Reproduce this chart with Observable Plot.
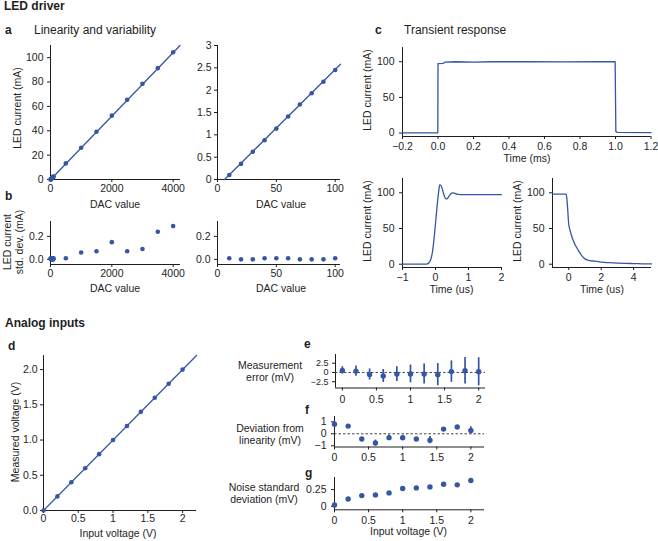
<!DOCTYPE html>
<html><head><meta charset="utf-8">
<script src="https://cdn.jsdelivr.net/npm/d3@7"></script>
<script src="https://cdn.jsdelivr.net/npm/@observablehq/plot@0.6"></script>
<style>
html,body{margin:0;padding:0;background:#fff;}
#fig{position:relative;width:658px;height:541px;overflow:hidden;background:#fff;}
#fig svg{position:absolute;overflow:visible;}
</style></head><body><div id="fig"></div>
<script>
// ---------- data ----------
const dacValues = [0,10,20,30,40,50,60,70,80,90,100,500,1000,1500,2000,2500,3000,3500,4000];
const ledCurrentMA = [0,0.10,0.35,0.62,0.88,1.14,1.41,1.68,1.93,2.19,2.45,13.2,26.1,39.2,52.4,65.5,78.5,91.4,104.5];
const ledStdMA = [0.005,0.01,0.0,0.0,0.01,0.01,0.01,0.0,0.0,0.0,0.01,0.01,0.06,0.07,0.15,0.07,0.09,0.24,0.29];
const fitDacFull = [6, 4225];
const fitCurrentFull = [0, 110];
const fitDacLow = [6, 104.5];
const fitCurrentLow = [0, 2.58];

const pulseTimeMs = [-0.2,-0.001,0,0.03,0.04,0.1,0.2,0.3,0.5,0.7,0.9,0.998,1.002,1.01,1.2];
const pulseCurrentMA = [0.3,0.3,97.5,97.8,99.6,100,99.6,100,100,99.8,100,100,2,1,0.6];

const riseTimeUs = [-1,-0.3,-0.25,-0.2,-0.15,-0.1,-0.05,0,0.05,0.1,0.13,0.17,0.22,0.27,0.32,0.37,0.42,0.47,0.52,0.57,0.65,0.75,2];
const riseCurrentMA = [0,0,0.5,2,6,15,33,57,82,103,111,110,103,95,91.5,92.5,96,99,100,99.5,98,97.5,97.5];

const fallTimeUs = [-1,-0.2,-0.15,-0.1,-0.05,0,0.1,0.2,0.3,0.4,0.5,0.6,0.7,0.8,0.9,1.0,1.2,1.5,2,2.5,3,3.5,4,4.5,5.1];
const fallCurrentMA = [98,98,97,88,72,56,46,38,32,27,23,19,15.5,12,9.5,7.5,5.5,4.5,3,2.2,1.6,1.2,0.9,0.6,0.4];

const inputV = [0,0.2,0.4,0.6,0.8,1.0,1.2,1.4,1.6,1.8,2.0];
const measuredV = [0,0.2,0.4,0.6,0.8,1.0,1.2,1.4,1.6,1.8,2.0];
const identityV = [0, 2.2];
const measErrMV = [0.55,0.37,-0.55,-0.95,-0.45,-0.4,-0.45,-0.6,0.23,0.45,0.18];
const measErrSdMV = [1.0,1.4,1.5,1.75,2.0,2.4,2.7,3.0,2.9,3.6,3.8];
const devLinMV = [0.8,0.64,-0.43,-0.77,-0.32,-0.33,-0.43,-0.53,0.39,0.57,0.28];
const devLinErrMV = [0.2,0.1,0.12,0.25,0.22,0.15,0.12,0.3,0.12,0.12,0.3];
const noiseSdMV = [0.02,0.11,0.16,0.17,0.2,0.265,0.275,0.29,0.33,0.32,0.385];

// tick values
const ticksDacFull = [0,2000,4000];
const ticksDacLow = [0,50,100];
const ticksCurrentFull = [0,20,40,60,80,100];
const ticksCurrentLow = [0,0.5,1,1.5,2,2.5,3];
const ticksStd = [0,0.2];
const ticksPulseMs = [-0.2,0,0.2,0.4,0.6,0.8,1.0,1.2];
const ticksCurrentPulse = [0,50,100];
const ticksRiseUs = [-1,0,1,2];
const ticksFallUs = [0,2,4];
const ticksVoltage = [0,0.5,1,1.5,2];
const ticksMeasured = [0,0.5,1,1.5,2];
const ticksErr = [-2.5,0,2.5];
const ticksDev = [-1,0,1];
const ticksNoise = [0,0.25];

// ---------- helpers ----------
const BLUE = "#3556a4";
const INK = "#1e1e1e";
const FONT = '"Liberation Sans", Arial, Helvetica, sans-serif';
const fig = document.getElementById("fig");
const ML = 50, MT = 6, MR = 6, MB = 26;
const plain = d => (d < 0 ? "\u2212" : "") + Math.abs(d);
const f1 = d3.format(".1f");

function panel(box, xOpt, yOpt, marks, fontSize = "10.5px") {
  const [l, t, r, b] = box;
  const svg = Plot.plot({
    width: r - l + ML + MR, height: b - t + MT + MB,
    marginLeft: ML, marginRight: MR, marginTop: MT, marginBottom: MB,
    style: {fontFamily: FONT, fontSize, color: INK, background: "transparent", overflow: "visible"},
    x: {label: null, tickSize: 3, tickPadding: 2, tickFormat: plain, ...xOpt},
    y: {label: null, tickSize: 3, tickPadding: 4, tickFormat: plain, ...yOpt},
    marks: [
      Plot.ruleX([xOpt.domain[0]], {stroke: INK, strokeWidth: 1}),
      Plot.ruleY([yOpt.domain[0]], {stroke: INK, strokeWidth: 1}),
      ...marks
    ]
  });
  svg.style.left = (l - ML) + "px";
  svg.style.top = (t - MT) + "px";
  fig.appendChild(svg);
  return svg;
}

const ledRows = dacValues.map((d, i) => ({dac: d, current: ledCurrentMA[i], sd: ledStdMA[i]}));
const ledLow = ledRows.filter(r => r.dac > 0 && r.dac <= 100);
const fitFull = fitDacFull.map((d, i) => ({dac: d, current: fitCurrentFull[i]}));
const fitLow = fitDacLow.map((d, i) => ({dac: d, current: fitCurrentLow[i]}));
const pulse = pulseTimeMs.map((t, i) => ({t, i: pulseCurrentMA[i]}));
const rise = riseTimeUs.map((t, i) => ({t, i: riseCurrentMA[i]}));
const fall = fallTimeUs.map((t, i) => ({t, i: fallCurrentMA[i]}));
const analog = inputV.map((v, i) => ({v, m: measuredV[i], e: measErrMV[i], esd: measErrSdMV[i],
  dl: devLinMV[i], dle: devLinErrMV[i], n: noiseSdMV[i]}));
const ident = identityV.map(v => ({v, m: v}));

// ---------- a ----------
panel([50, 45, 180, 179], {domain: [0, 4240], ticks: ticksDacFull}, {domain: [0, 110], ticks: ticksCurrentFull}, [
  Plot.line(fitFull, {x: "dac", y: "current", stroke: BLUE, strokeWidth: 1.3}),
  Plot.dot(ledRows, {x: "dac", y: "current", r: 2.3, fill: BLUE})
]);
panel([217, 45, 340, 179], {domain: [0, 104.5], ticks: ticksDacLow}, {domain: [0, 3], ticks: ticksCurrentLow, tickPadding: 3}, [
  Plot.line(fitLow, {x: "dac", y: "current", stroke: BLUE, strokeWidth: 1.3}),
  Plot.dot(ledLow, {x: "dac", y: "current", r: 2.3, fill: BLUE})
]);
// ---------- b ----------
panel([50, 221, 180, 264], {domain: [0, 4240], ticks: ticksDacFull}, {domain: [-0.045, 0.33], ticks: ticksStd, tickFormat: f1}, [
  Plot.dot(ledRows, {x: "dac", y: "sd", r: 2.3, fill: BLUE})
]);
panel([217, 221, 340, 264], {domain: [0, 104.5], ticks: ticksDacLow}, {domain: [-0.045, 0.33], ticks: ticksStd, tickFormat: f1}, [
  Plot.dot(ledLow, {x: "dac", y: "sd", r: 2.3, fill: BLUE})
]);
// ---------- c ----------
panel([402, 47, 650.5, 136], {domain: [-0.2, 1.2], ticks: ticksPulseMs, tickFormat: f1, tickPadding: 3}, {domain: [-4.8, 120], ticks: ticksCurrentPulse, tickPadding: 5}, [
  Plot.line(pulse, {x: "t", y: "i", stroke: BLUE, strokeWidth: 1.3})
]);
panel([402, 178, 501, 267], {domain: [-1, 2], ticks: ticksRiseUs, tickPadding: 3}, {domain: [-4.6, 120], ticks: ticksCurrentPulse, tickPadding: 5}, [
  Plot.line(rise, {x: "t", y: "i", stroke: BLUE, strokeWidth: 1.3, curve: "monotone-x"})
]);
panel([552, 178, 651, 267], {domain: [-1, 5.1], ticks: ticksFallUs, tickPadding: 3}, {domain: [-4.6, 120], ticks: ticksCurrentPulse, tickPadding: 5}, [
  Plot.line(fall, {x: "t", y: "i", stroke: BLUE, strokeWidth: 1.3, curve: "monotone-x"})
]);
// ---------- d ----------
panel([43, 355, 196, 510], {domain: [0, 2.2], ticks: ticksVoltage, tickPadding: 1}, {domain: [0, 2.2], ticks: ticksMeasured, tickFormat: f1, tickPadding: 3}, [
  Plot.line(ident, {x: "v", y: "m", stroke: BLUE, strokeWidth: 1.3}),
  Plot.dot(analog, {x: "v", y: "m", r: 2.3, fill: BLUE})
]);
// ---------- e ----------
const eSvg = panel([335, 354, 485, 387.5], {domain: [-0.1, 2.1], ticks: ticksVoltage, tickPadding: 5}, {domain: [-4.2, 4.85], ticks: ticksErr}, [
  Plot.ruleY([0], {stroke: "#444", strokeWidth: 1, strokeDasharray: "2.5,2"}),
  Plot.ruleX(analog, {x: "v", y1: d => d.e - d.esd, y2: d => d.e + d.esd, stroke: BLUE, strokeWidth: 1.7}),
  Plot.dot(analog, {x: "v", y: "e", r: 2.7, fill: BLUE})
]);
// tighter y tick labels for e (the three labels sit only 9 px apart)
d3.select(eSvg).selectAll("[aria-label='y-axis tick label']").attr("font-size", "9px");
// ---------- f ----------
panel([334, 416, 484, 446.5], {domain: [0, 2.2], ticks: ticksVoltage, tickPadding: 4}, {domain: [-1.1, 1.44], ticks: ticksDev, tickPadding: 5}, [
  Plot.ruleY([0], {stroke: "#444", strokeWidth: 1, strokeDasharray: "2.5,2"}),
  Plot.ruleX(analog, {x: "v", y1: d => d.dl - d.dle, y2: d => d.dl + d.dle, stroke: BLUE, strokeWidth: 1.7}),
  Plot.dot(analog, {x: "v", y: "dl", r: 2.7, fill: BLUE})
]);
// ---------- g ----------
panel([334, 476.7, 484, 509], {domain: [0, 2.2], ticks: ticksVoltage, tickPadding: 3.5}, {domain: [-0.052, 0.43], ticks: ticksNoise, tickPadding: 5}, [
  Plot.dot(analog, {x: "v", y: "n", r: 2.7, fill: BLUE})
]);

// ---------- text overlay ----------
const ov = d3.select(fig).append("svg")
  .attr("width", 658).attr("height", 541)
  .style("left", "0px").style("top", "0px").style("pointer-events", "none")
  .attr("font-family", FONT).attr("fill", INK);
function txt(s, x, y, o = {}) {
  const el = ov.append("text").text(s)
    .attr("font-size", (o.size || 10.5) + "px")
    .attr("font-weight", o.bold ? "bold" : "normal")
    .attr("text-anchor", o.anchor || "start");
  if (o.rot) el.attr("transform", `translate(${x},${y}) rotate(-90)`);
  else el.attr("x", x).attr("y", y);
}
txt("LED driver", 4, 9.5, {size: 12, bold: true});
txt("a", 5, 33.5, {size: 12, bold: true});
txt("Linearity and variability", 34, 33.5, {size: 12});
txt("c", 375, 33.5, {size: 12, bold: true});
txt("Transient response", 404, 33.5, {size: 12});
txt("b", 5, 200, {size: 12, bold: true});
txt("Analog inputs", 5, 327, {size: 12, bold: true});
txt("d", 8, 349.5, {size: 12, bold: true});
txt("e", 304, 348, {size: 12, bold: true});
txt("f", 305, 413.5, {size: 12, bold: true});
txt("g", 305, 477, {size: 12, bold: true});

txt("LED current (mA)", 21, 108, {rot: true, anchor: "middle"});
txt("DAC value", 115, 207.5, {anchor: "middle"});
txt("DAC value", 281, 207.5, {anchor: "middle"});
txt("LED current", 11, 242, {rot: true, anchor: "middle"});
txt("std. dev. (mA)", 22.5, 242, {rot: true, anchor: "middle"});
txt("DAC value", 115, 291.5, {anchor: "middle"});
txt("DAC value", 281, 291.5, {anchor: "middle"});

txt("LED current (mA)", 371, 90, {rot: true, anchor: "middle"});
txt("Time (ms)", 527, 162, {anchor: "middle"});
txt("LED current (mA)", 371, 221, {rot: true, anchor: "middle"});
txt("LED current (mA)", 521, 221, {rot: true, anchor: "middle"});
txt("Time (us)", 451.5, 293, {anchor: "middle"});
txt("Time (us)", 602, 293, {anchor: "middle"});

txt("Measured voltage (V)", 18.5, 432, {rot: true, anchor: "middle"});
txt("Input voltage (V)", 118, 537, {anchor: "middle"});
txt("Measurement", 270, 368.5, {anchor: "middle"});
txt("error (mV)", 270, 380.5, {anchor: "middle"});
txt("Deviation from", 270, 432, {anchor: "middle"});
txt("linearity (mV)", 270, 444, {anchor: "middle"});
txt("Noise standard", 264, 490.5, {anchor: "middle"});
txt("deviation (mV)", 264, 502.5, {anchor: "middle"});
txt("Input voltage (V)", 408.5, 535, {anchor: "middle"});
</script></body></html>
